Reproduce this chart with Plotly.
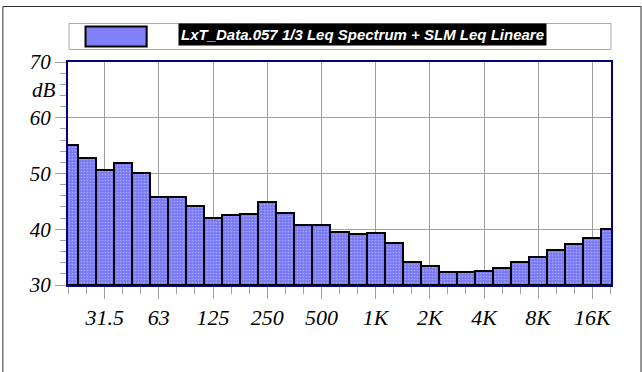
import plotly.graph_objects as go

bands = ["20", "25", "31.5", "40", "50", "63", "80", "100", "125", "160", "200", "250",
         "315", "400", "500", "630", "800", "1K", "1.25K", "1.6K", "2K", "2.5K", "3.15K",
         "4K", "5K", "6.3K", "8K", "10K", "12.5K", "16K", "20K"]
leq_db = [55.1, 52.8, 50.6, 51.9, 50.1, 45.7, 45.7, 44.1, 42.1, 42.6, 42.8, 44.9,
          42.85, 40.8, 40.7, 39.5, 39.1, 39.3, 37.5, 34.2, 33.4, 32.3, 32.3,
          32.5, 33.1, 34.1, 35.1, 36.25, 37.3, 38.35, 40.1]
x_tick_labels = ["31.5", "63", "125", "250", "500", "1K", "2K", "4K", "8K", "16K"]
y_tick_values = [30, 40, 50, 60, 70]
series_name = "LxT_Data.057 1/3 Leq Spectrum + SLM Leq Lineare"
y_unit = "dB"

idx = list(range(len(bands)))
x_tick_vals = [bands.index(lbl) for lbl in x_tick_labels]

fig = go.Figure()
fig.add_trace(go.Bar(
    x=idx, y=[v - 30 for v in leq_db], base=30,
    width=1.0,
    name=series_name,
    showlegend=False,
    marker=dict(
        color="#8080f8",
        line=dict(color="black", width=2),
        pattern=dict(shape=".", fgcolor="#d8d8ff", bgcolor="#7878f4", size=3, solidity=0.25),
    ),
    hovertext=bands,
))

serif = "Liberation Serif, Times New Roman, serif"
fig.update_layout(
    width=642, height=372,
    margin=dict(l=68, r=31, t=62, b=87),
    paper_bgcolor="white", plot_bgcolor="white",
    bargap=0,
    xaxis=dict(
        range=[-0.03, 30.03],
        tickmode="array", tickvals=x_tick_vals, ticktext=x_tick_labels,
        ticks="outside", ticklen=12, tickcolor="#a0a0a0", tickwidth=1,
        minor=dict(tick0=0, dtick=1, ticks="outside", ticklen=7, tickcolor="#a0a0a0", showgrid=False),
        showgrid=True, gridcolor="#a0a0a0", gridwidth=1,
        showline=True, linecolor="#000080", linewidth=2, mirror=True,
        tickfont=dict(family=serif, size=22, color="black", style="italic"),
        zeroline=False,
    ),
    yaxis=dict(
        range=[30, 70],
        tickmode="array", tickvals=y_tick_values,
        ticks="outside", ticklen=11, tickcolor="#a0a0a0", tickwidth=1,
        minor=dict(tick0=30, dtick=2, ticks="outside", ticklen=6, tickcolor="#a0a0a0", showgrid=False),
        showgrid=True, gridcolor="#a0a0a0", gridwidth=1,
        showline=True, linecolor="#000080", linewidth=2, mirror=True,
        tickfont=dict(family=serif, size=21, color="black", style="italic"),
        zeroline=False,
    ),
)

def px_x(p):
    return (p - 68.5) / 542.0

def px_y(p):
    return (285.0 - p) / 223.0

shapes = [
    # outer frame
    dict(type="rect", xref="paper", yref="paper", x0=px_x(3.5), x1=px_x(640.5),
         y0=px_y(380), y1=px_y(6.5), line=dict(color="#303030", width=1)),
    # legend box
    dict(type="rect", xref="paper", yref="paper", x0=px_x(69.5), x1=px_x(610.5),
         y0=px_y(49.5), y1=px_y(23.5), line=dict(color="#a8a8a8", width=1)),
    # legend swatch
    dict(type="rect", xref="paper", yref="paper", x0=px_x(86), x1=px_x(147),
         y0=px_y(46.5), y1=px_y(26.5), fillcolor="#8080f8", line=dict(color="black", width=2)),
]
fig.update_layout(shapes=shapes)

fig.add_annotation(
    xref="paper", yref="paper", x=px_x(362), y=px_y(34.5), xanchor="center", yanchor="middle",
    text=series_name, showarrow=False, bgcolor="black", borderpad=2,
    font=dict(family="Liberation Sans, Arial, sans-serif",
              size=15, color="white", style="italic", weight="bold"),
)
fig.add_annotation(
    xref="paper", yref="y", x=px_x(59), y=65, xanchor="right", yanchor="middle",
    text=y_unit, showarrow=False,
    font=dict(family=serif, size=21, color="black", style="italic"),
)

fig.write_html(
    "out.html",
    config={"displayModeBar": False},
    post_script="document.body.style.margin='0';document.body.style.overflow='hidden';",
)
